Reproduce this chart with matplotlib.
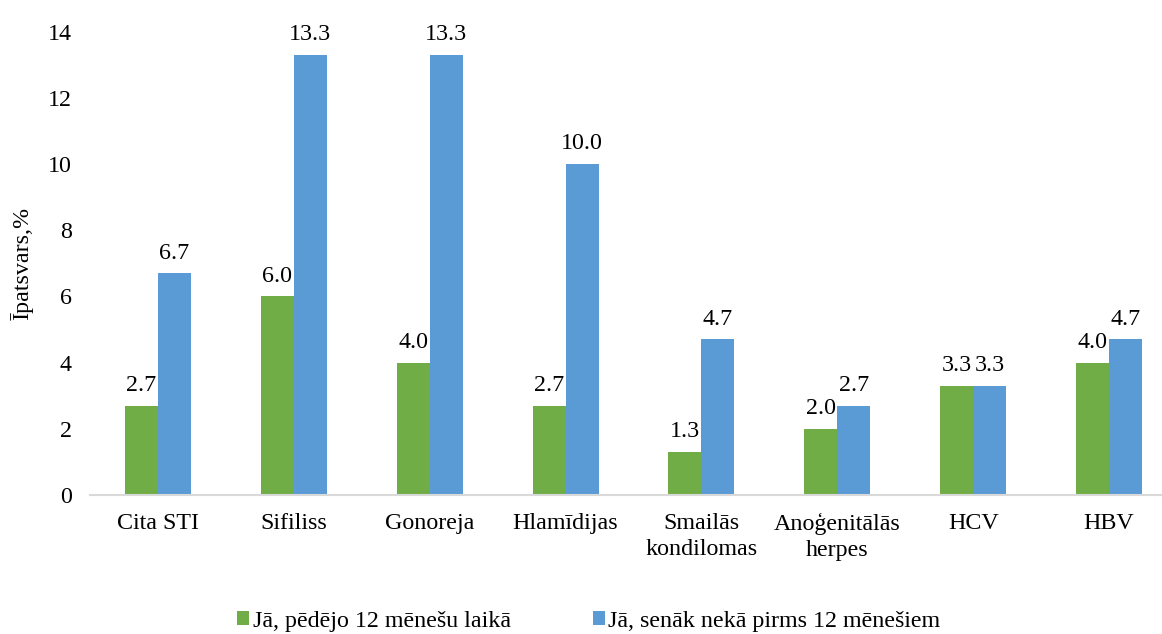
import matplotlib
matplotlib.use("Agg")
import matplotlib.pyplot as plt
import numpy as np

categories = ["Cita STI", "Sifiliss", "Gonoreja", "Hlamīdijas", "Smailās\nkondilomas",
              "Anoģenitālās\nherpes", "HCV", "HBV"]
last_12 = [2.7, 6.0, 4.0, 2.7, 1.3, 2.0, 3.3, 4.0]
earlier = [6.7, 13.3, 13.3, 10.0, 4.7, 2.7, 3.3, 4.7]
series_names = ["Jā, pēdējo 12 mēnešu laikā", "Jā, senāk nekā pirms 12 mēnešiem"]
yticks = [0, 2, 4, 6, 8, 10, 12, 14]

plt.rcParams['font.family'] = ['Liberation Serif', 'DejaVu Serif']
FS = 17.3

fig = plt.figure(figsize=(11.62, 6.34), dpi=100)
ax = fig.add_axes([90/1162, 139/634, 1 - 90/1162, (495-31.7)/634])

x = np.arange(len(categories))
w = 0.243
green = "#70AD47"
blue = "#5B9BD5"
b1 = ax.bar(x - w/2, last_12, w, color=green, label=series_names[0])
b2 = ax.bar(x + w/2, earlier, w, color=blue, label=series_names[1])

for bars, vals in ((b1, last_12), (b2, earlier)):
    for r, v in zip(bars, vals):
        ax.annotate(f"{v:.1f}", (r.get_x() + r.get_width()/2, v), xytext=(0, 7),
                    textcoords="offset points", ha="center", va="bottom", fontsize=FS)

ax.set_xlim(-0.5, 7.39)
ax.set_ylim(0, 14)
ax.set_yticks(yticks)
ax.set_xticks(x)
ax.set_xticklabels(categories, fontsize=FS, linespacing=1.3)
ax.tick_params(axis='y', length=0, labelsize=FS, pad=13)
ax.tick_params(axis='x', length=0, pad=13)
for s in ["top", "right", "left"]:
    ax.spines[s].set_visible(False)
ax.spines["bottom"].set_color("#D9D9D9")
ax.spines["bottom"].set_linewidth(1.5)
ax.set_ylabel("Īpatsvars,%", fontsize=FS)
ax.yaxis.set_label_coords(-56/1072, 0.5)

fig.legend(handles=[b1, b2], loc="center", bbox_to_anchor=(589/1162, 1 - 621/634),
           ncol=2, frameon=False, fontsize=FS, handlelength=0.5, handleheight=0.5,
           handletextpad=0.15, columnspacing=3.4)

fig.savefig("out.png", dpi=100)
